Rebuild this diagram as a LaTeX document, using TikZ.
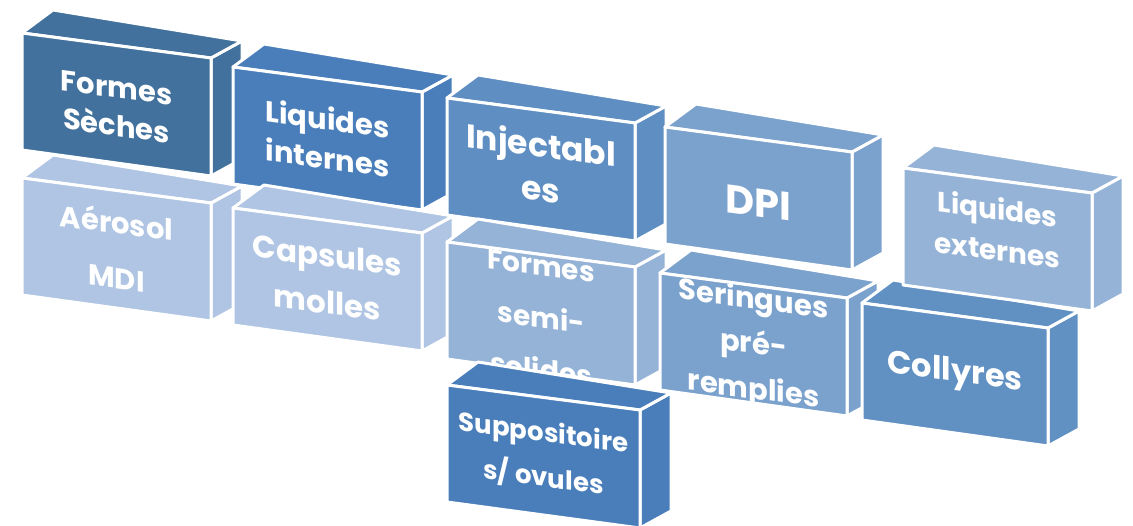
\documentclass[tikz,border=0pt]{standalone}
\usepackage{fontspec}
\setmainfont{Poppins}
\definecolor{cA}{HTML}{41719C}
\definecolor{cB}{HTML}{4A7EBB}
\definecolor{cC}{HTML}{5E8EC2}
\definecolor{cD}{HTML}{7BA1CD}
\definecolor{cE}{HTML}{95B3D7}
\definecolor{cF}{HTML}{AFC5E3}
\definecolor{cG}{HTML}{6190C3}
\tikzset{
  face/.style={fill=#1, draw=white, line width=3pt, line join=round},
  boxtext/.style={text=white, align=center, inner sep=0pt, transform shape}
}
% #1 name, #2 x, #3 y, #4 width, #5 colour, #6 font size, #7 line skip, #8 text offset, #9 text
\newcommand\pcube[9]{%
  \path[face=#5] (#2+#4,#3+25) -- ++(31,-17) -- ++(0,118) -- (#2+#4,#3+143) -- cycle;
  \path[face=#5] (#2,#3) -- ++(31,-23) -- (#2+#4+31,#3+8) -- (#2+#4,#3+25) -- cycle;
  \path[face=#5] (#2,#3) -- (#2+#4,#3+25) -- (#2+#4,#3+143) -- (#2,#3+117) -- cycle;
  \begin{scope}
    \clip (#2+1.5,#3+1.5) -- (#2+#4-1.5,#3+26.5) -- (#2+#4-1.5,#3+141.5) -- (#2+1.5,#3+115.5) -- cycle;
    \begin{scope}[shift={(#2+#4/2,#3+71+#8)}, yslant=-0.133]
      \node[boxtext, font={\bfseries\fontsize{#6}{#7}\selectfont}] (#1) at (0,0) {#9};
    \end{scope}
  \end{scope}
}
\begin{document}
\begin{tikzpicture}[x=1pt,y=-1pt]
\useasboundingbox (0,0) rectangle (1133,526);
\pcube{formes}{22}{33}{189}{cA}{29}{38}{3}{Formes\\Sèches}
\pcube{aerosol}{22}{178}{189}{cF}{29}{55}{0}{Aérosol\\MDI}
\pcube{liqint}{233}{67}{189}{cB}{29}{39}{0}{Liquides\\internes}
\pcube{capsules}{233}{208}{189}{cF}{31}{47}{0}{Capsules\\molles}
\pcube{inject}{447}{98}{188}{cC}{33}{44}{-3}{Injectabl\\es}
\pcube{semisol}{447}{242}{188}{cE}{28}{52}{5}{Formes\\semi-\\solides}
\pcube{suppo}{447}{385}{193}{cB}{26}{45}{0}{Suppositoire\\s/ ovules}
\pcube{dpi}{665}{127}{187}{cD}{40}{50}{5}{DPI}
\pcube{seringues}{660}{273}{187}{cD}{29}{45}{2}{Seringues\\pré-\\remplies}
\pcube{collyres}{862}{303}{186}{cG}{32}{40}{0}{Collyres}
\pcube{liqext}{903}{168}{189}{cE}{28}{41}{-10}{Liquides\\externes}
\end{tikzpicture}
\end{document}
